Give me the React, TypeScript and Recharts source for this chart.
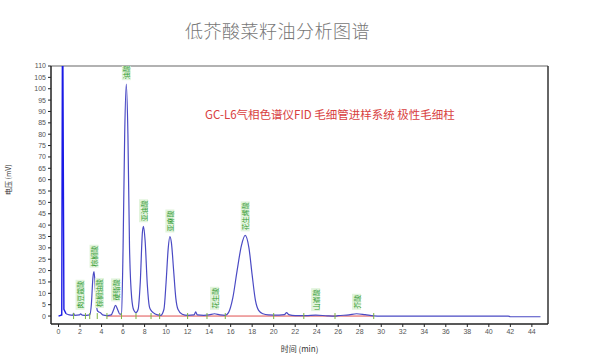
import React from 'react';
import { ComposedChart, Line, Scatter, XAxis, YAxis, ReferenceLine, Label } from 'recharts';

// chromatogram trace: retention time (min) and signal (mV)
const traceTime = [
  0.7, 1.0, 1.3, 1.4, 1.5, 1.95, 2.05, 2.2, 2.6, 2.9, 3.05, 3.2, 3.3, 3.45, 3.6, 3.75, 3.9, 4.1, 4.5,
  4.9, 5.1, 5.3, 5.5, 5.7, 5.85, 6.0, 6.15, 6.3, 6.45, 6.6, 6.8, 7.0, 7.2, 7.4, 7.6, 7.8, 7.9, 8.05,
  8.25, 8.45, 8.6, 8.8, 9.2, 9.5, 9.8, 10.0, 10.2, 10.35, 10.5, 10.7, 10.9, 11.1, 11.5, 12.0, 12.6,
  12.75, 12.9, 13.5, 14.0, 14.5, 15.0, 15.5, 15.8, 16.2, 16.6, 17.0, 17.35, 17.7, 18.0, 18.3, 18.6,
  19.0, 19.5, 20.5, 21.0, 21.2, 21.4, 22.0, 23.0, 23.9, 25.0, 25.7, 26.0, 27.0, 27.7, 28.5, 29.3,
  30.0, 41.8, 42.0, 44.8,
];
const traceSignal = [
  1.0, 0.5, 0.3, 1.2, 0.3, 0.5, 1.0, 0.4, 0.3, 0.5, 5, 17, 19.5, 10, 2.5, 1.8, 1.5, 0.5, 0.2,
  0.5, 2.5, 4.7, 2.8, 0.8, 1.0, 30, 80, 102, 80, 30, 8, 2.5, 1.5, 3, 15, 37, 39.5, 33,
  14, 4, 2.5, 1.5, 0.5, 0.3, 3, 15, 30, 35, 32, 20, 8, 3, 0.8, 0.3, 0.5,
  1.8, 0.5, 0.3, 0.5, 1.0, 0.5, 0.3, 1.5, 8, 20, 31, 35.5, 30, 18, 7, 2.5,
  1.0, 0.5, 0.4, 0.6, 1.5, 0.6, 0.2, 0.2, 0.4, 0.1, 0, 0.2, 0.5, 1.0, 0.6, 0.1,
  0, 0, -0.3, -0.3,
];

// solvent peak at the start (drawn in brighter blue)
const solventTime = [0, 0.3, 0.36, 0.4, 0.5, 0.7];
const solventSignal = [0, 0.5, 118, 118, 3, 1.0];

// red integration baseline
const baselineTime = [4.5, 29.3];
const baselineSignal = [0, 0];

// peak names
const peakNames = ['肉豆蔻酸', '棕榈酸', '棕榈油酸', '硬脂酸', '油酸', '亚油酸', '亚麻酸', '花生酸', '花生烯酸', '山嵛酸', '芥酸'];
const peakTime = [2.0, 3.3, 3.8, 5.3, 6.3, 7.9, 10.35, 14.5, 17.35, 23.9, 27.7];
const peakHeight = [1.0, 19.5, 1.8, 4.7, 102, 39.5, 35, 1.0, 35.5, 0.4, 1.0];

// integration marks on the baseline
const markTime = [1.4, 2.5, 2.9, 3.6, 4.5, 5.85, 7.2, 8.6, 9.4, 12.0, 13.8, 15.5, 20.0, 22.8, 25.7, 29.3];

const xTicks = [0, 2, 4, 6, 8, 10, 12, 14, 16, 18, 20, 22, 24, 26, 28, 30, 32, 34, 36, 38, 40, 42, 44];
const yTicks = [0, 5, 10, 15, 20, 25, 30, 35, 40, 45, 50, 55, 60, 65, 70, 75, 80, 85, 90, 95, 100, 105, 110];
const minorTicks = Array.from({ length: 90 }, (_, i) => i * 0.5);

const traceData = traceTime.map((t, i) => ({ t, v: traceSignal[i] }));
const solventData = solventTime.map((t, i) => ({ t, v: solventSignal[i] }));
const baselineData = baselineTime.map((t, i) => ({ t, v: baselineSignal[i] }));
const peakData = peakTime.map((t, i) => ({ t, v: peakHeight[i], name: peakNames[i] }));
const markData = markTime.map((t) => ({ t, v: 0 }));

const cjk = '"Noto Sans CJK SC", "Noto Sans", sans-serif';

const PeakLabel = (props: any) => {
  const { cx, cy, payload } = props;
  if (cx == null || cy == null) return null;
  const fs = 7;
  const ax = cx;
  const ay = cy - 4;
  const len = payload.name.length * fs + 2;
  return (
    <g transform={`rotate(-90, ${ax}, ${ay})`}>
      <rect x={ax} y={ay - 4.5} width={len} height={9} fill="#e2f4dd" />
      <text x={ax + 1} y={ay} fontSize={fs} fill="#2f9a2f" dominantBaseline="central" fontFamily={cjk}>
        {payload.name}
      </text>
    </g>
  );
};

const Mark = (props: any) => {
  const { cx, cy } = props;
  if (cx == null || cy == null) return null;
  return <line x1={cx} x2={cx} y1={cy - 3} y2={cy + 3} stroke="#7cb342" strokeWidth={1} />;
};

const App: React.FC = () => {
  return (
    <div style={{ position: 'absolute', left: 0, top: 0, width: 600, height: 355, background: '#fff' }}>
      <div
        style={{
          position: 'absolute', left: 0, width: 555, top: 17, textAlign: 'center',
          fontFamily: cjk, fontSize: 18, fontWeight: 300, color: '#777', letterSpacing: 0.5,
        }}
      >
        低芥酸菜籽油分析图谱
      </div>
      <div
        style={{
          position: 'absolute', left: 205, top: 106, fontFamily: cjk, fontSize: 11.5,
          color: '#d84040', whiteSpace: 'nowrap',
        }}
      >
        GC-L6气相色谱仪FID 毛细管进样系统 极性毛细柱
      </div>
      <ComposedChart width={600} height={355} margin={{ top: 66, right: 52, bottom: 11, left: 21 }}>
        <XAxis
          type="number"
          dataKey="t"
          domain={[-0.7, 45.5]}
          ticks={xTicks}
          allowDataOverflow
          height={20}
          tick={{ fontSize: 7, fill: '#555', fontFamily: 'Arial' }}
          tickSize={3}
          axisLine={{ stroke: '#222', strokeWidth: 1.5 }}
          tickLine={{ stroke: '#222' }}
        >
          <Label value="时间 (min)" position="insideBottom" offset={-8} style={{ fontSize: 8, fill: '#333', fontFamily: cjk }} />
        </XAxis>
        <XAxis
          xAxisId="minor"
          type="number"
          dataKey="t"
          domain={[-0.7, 45.5]}
          ticks={minorTicks}
          allowDataOverflow
          height={0}
          tick={false}
          tickSize={2}
          axisLine={false}
          tickLine={{ stroke: '#444' }}
        />
        <YAxis
          type="number"
          dataKey="v"
          domain={[-3.5, 110]}
          ticks={yTicks}
          allowDataOverflow
          width={30}
          interval={0}
          tick={{ fontSize: 7, fill: '#555', fontFamily: 'Arial' }}
          tickSize={3}
          axisLine={{ stroke: '#222', strokeWidth: 1.5 }}
          tickLine={{ stroke: '#222' }}
        >
          <Label value="电压 (mV)" angle={-90} position="insideLeft" offset={-12} style={{ fontSize: 7, fill: '#333', fontFamily: cjk }} />
        </YAxis>
        <ReferenceLine y={110} stroke="#999" strokeWidth={1.5} />
        <ReferenceLine x={45.5} stroke="#333" strokeWidth={1.5} />
        <Line data={baselineData} dataKey="v" type="linear" stroke="#e05050" strokeWidth={1} dot={false} isAnimationActive={false} />
        <Line data={traceData} dataKey="v" type="monotone" stroke="#4a4ac4" strokeWidth={1.2} dot={false} isAnimationActive={false} />
        <Line data={solventData} dataKey="v" type="linear" stroke="#1a1ae6" strokeWidth={1.4} dot={false} isAnimationActive={false} />
        <Scatter data={markData} dataKey="v" shape={<Mark />} isAnimationActive={false} />
        <Scatter data={peakData} dataKey="v" shape={<PeakLabel />} isAnimationActive={false} />
      </ComposedChart>
    </div>
  );
};

export default App;
